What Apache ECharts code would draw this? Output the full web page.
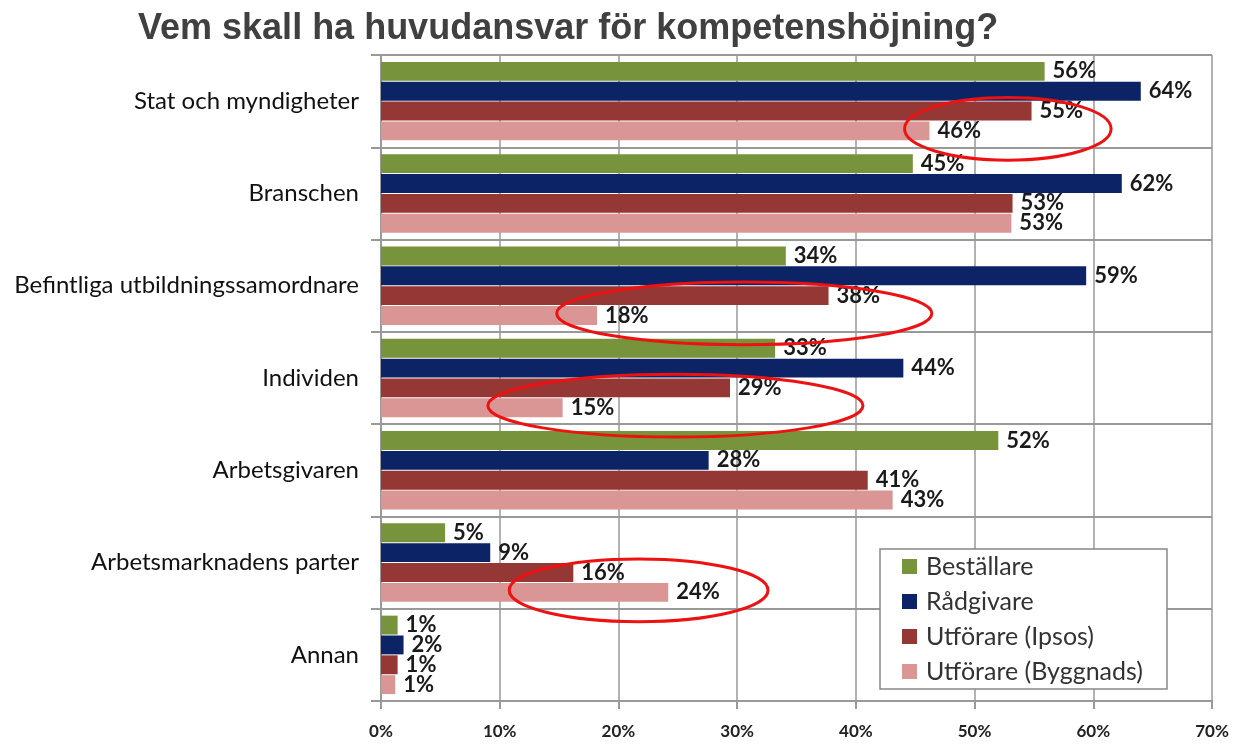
<!DOCTYPE html>
<html>
<head>
<meta charset="utf-8">
<script src="https://cdn.jsdelivr.net/npm/echarts@6/dist/echarts.min.js"></script>
<style>
html,body{margin:0;padding:0;background:#fff;}
#main{width:1245px;height:747px;}
</style>
</head>
<body>
<div id="main"></div>
<script>
const categories = ['Stat och myndigheter','Branschen','Befintliga utbildningssamordnare','Individen','Arbetsgivaren','Arbetsmarknadens parter','Annan'];
const seriesNames = ['Beställare','Rådgivare','Utförare (Ipsos)','Utförare (Byggnads)'];
const bestallare = [55.9, 44.8, 34.1, 33.2, 52.0, 5.4, 1.4];
const radgivare = [64.0, 62.4, 59.4, 44.0, 27.6, 9.2, 1.9];
const utforareIpsos = [54.8, 53.2, 37.7, 29.4, 41.0, 16.2, 1.4];
const utforareByggnads = [46.2, 53.1, 18.2, 15.3, 43.1, 24.2, 1.2];
const xTicks = [0, 10, 20, 30, 40, 50, 60, 70];
// highlight ellipses: [categoryIndex, centerValue(%), radiusX(%)]
const highlights = [[0, 52.8, 8.7], [2, 30.6, 15.8], [3, 24.8, 15.8], [5, 21.7, 10.9]];

const colors = ['#77933C', '#0C2366', '#953735', '#D99694'];
const allData = [bestallare, radgivare, utforareIpsos, utforareByggnads];
const font = 'Lato, "Noto Sans", sans-serif';

const chart = echarts.init(document.getElementById('main'), null, {renderer: 'canvas'});
const option = {
  animation: false,
  backgroundColor: '#fff',
  title: {
    text: 'Vem skall ha huvudansvar för kompetenshöjning?',
    left: 133, top: 6,
    textStyle: {fontFamily: '"Liberation Sans", Arial, sans-serif', fontWeight: 'bold', fontSize: 36, color: '#404040'}
  },
  legend: {
    orient: 'vertical',
    left: 880, top: 549,
    padding: [5, 24, 5, 22],
    itemGap: 10,
    itemWidth: 15, itemHeight: 15,
    icon: 'rect',
    backgroundColor: '#fff',
    borderColor: '#888', borderWidth: 1.5,
    textStyle: {fontFamily: font, fontSize: 25, color: '#333', padding: [0, 0, 0, 4]},
    data: seriesNames
  },
  grid: {left: 381, right: 33, top: 55, bottom: 46},
  xAxis: {
    type: 'value', min: 0, max: 70, interval: 10,
    axisLine: {show: true, lineStyle: {color: '#999', width: 2}},
    axisTick: {show: true, length: 8, lineStyle: {color: '#999', width: 2}},
    splitLine: {show: true, lineStyle: {color: '#999', width: 1.5}},
    axisLabel: {formatter: v => xTicks.includes(v) ? v + '%' : '', fontFamily: font, fontWeight: 'bold', fontSize: 17, color: '#222', margin: 22}
  },
  yAxis: {
    type: 'category', inverse: true, data: categories,
    axisLine: {show: true, lineStyle: {color: '#999', width: 2}},
    axisTick: {show: true, length: 10, lineStyle: {color: '#999', width: 2}},
    splitLine: {show: true, lineStyle: {color: '#999', width: 2}},
    axisLabel: {fontFamily: font, fontSize: 24, color: '#111', margin: 22}
  },
  series: seriesNames.map((name, i) => ({
    name, type: 'bar', data: allData[i],
    barGap: '5%', barCategoryGap: '15%',
    itemStyle: {color: colors[i]},
    label: {
      show: true, position: 'right', distance: 8,
      formatter: p => Math.round(p.value) + '%',
      fontFamily: font, fontWeight: 'bold', fontSize: 22, color: '#1a1a1a'
    }
  }))
};
chart.setOption(option);

const graphics = highlights.map(([ci, cv, rx]) => {
  const c = chart.convertToPixel({gridIndex: 0}, [cv, ci]);
  const edge = chart.convertToPixel({gridIndex: 0}, [cv + rx, ci]);
  const next = chart.convertToPixel({gridIndex: 0}, [cv, ci + 1]);
  const band = next[1] - c[1];
  return {
    type: 'ellipse',
    shape: {cx: c[0], cy: c[1] + band * 0.3, rx: edge[0] - c[0], ry: band * 0.34},
    style: {fill: null, stroke: '#EE1111', lineWidth: 3},
    z: 100
  };
});
chart.setOption({graphic: graphics});
</script>
</body>
</html>
